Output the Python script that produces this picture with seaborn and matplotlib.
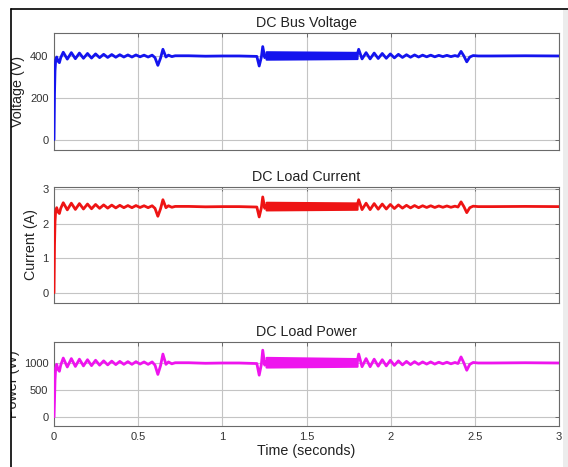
import numpy as np
import pandas as pd
import matplotlib
matplotlib.use("Agg")
import matplotlib.pyplot as plt
import seaborn as sns
from matplotlib.patches import Rectangle
from matplotlib.lines import Line2D

# ---------------- data ----------------
time_s = [0.000, 0.003, 0.006, 0.010, 0.016, 0.024, 0.032, 0.040,
          0.055, 0.079, 0.103, 0.127, 0.151, 0.175, 0.199, 0.223, 0.247, 0.271,
          0.295, 0.319, 0.343, 0.367, 0.391, 0.415, 0.439, 0.463, 0.487, 0.511,
          0.535, 0.559, 0.583, 0.600, 0.617, 0.633, 0.647, 0.665, 0.680, 0.700,
          0.720, 0.800, 0.900, 1.000, 1.100, 1.205, 1.219, 1.232, 1.240, 1.252,
          1.260, 1.530, 1.800, 1.810, 1.830, 1.854, 1.878, 1.902, 1.926, 1.950,
          1.974, 1.998, 2.022, 2.046, 2.070, 2.094, 2.118, 2.142, 2.166, 2.190,
          2.214, 2.238, 2.262, 2.286, 2.310, 2.334, 2.358, 2.382, 2.400, 2.418,
          2.435, 2.452, 2.470, 2.490, 2.520, 2.600, 2.800, 3.000]

voltage_v = [0, 220, 330, 380, 395, 375, 368, 392,
             418, 385, 416, 387, 414, 389, 412, 390, 410, 392,
             408, 393, 407, 394, 406, 395, 405, 395, 405, 396,
             404, 395, 404, 392, 355, 390, 432, 395, 404, 397,
             401, 401, 399, 400, 400, 398, 352, 395, 445, 392,
             405, 402, 402, 432, 386, 416, 386, 414, 388, 412,
             389, 410, 391, 408, 393, 406, 394, 405, 395, 404,
             396, 404, 396, 403, 397, 403, 397, 402, 398, 422,
             400, 372, 395, 402, 400, 400, 401, 400]

current_a = [0.000, 1.375, 2.063, 2.375, 2.469, 2.344, 2.300, 2.450,
             2.613, 2.406, 2.600, 2.419, 2.588, 2.431, 2.575, 2.438, 2.563, 2.450,
             2.550, 2.456, 2.544, 2.463, 2.538, 2.469, 2.531, 2.469, 2.531, 2.475,
             2.525, 2.469, 2.525, 2.450, 2.219, 2.438, 2.700, 2.469, 2.525, 2.481,
             2.506, 2.506, 2.494, 2.500, 2.500, 2.488, 2.200, 2.469, 2.781, 2.450,
             2.531, 2.513, 2.513, 2.700, 2.413, 2.600, 2.413, 2.588, 2.425, 2.575,
             2.431, 2.563, 2.444, 2.550, 2.456, 2.538, 2.463, 2.531, 2.469, 2.525,
             2.475, 2.525, 2.475, 2.519, 2.481, 2.519, 2.481, 2.513, 2.488, 2.638,
             2.500, 2.325, 2.469, 2.513, 2.500, 2.500, 2.506, 2.500]

power_w = [0, 303, 681, 903, 975, 879, 846, 960,
           1092, 926, 1082, 936, 1071, 946, 1061, 951, 1051, 960,
           1040, 965, 1035, 970, 1030, 975, 1025, 975, 1025, 980,
           1020, 975, 1020, 960, 788, 951, 1166, 975, 1020, 985,
           1005, 1005, 995, 1000, 1000, 990, 774, 975, 1238, 960,
           1025, 1010, 1010, 1166, 931, 1082, 931, 1071, 941, 1061,
           946, 1051, 956, 1040, 965, 1030, 970, 1025, 975, 1020,
           980, 1020, 980, 1015, 985, 1015, 985, 1010, 990, 1113,
           1000, 865, 975, 1010, 1000, 1000, 1005, 1000]

# high-frequency ripple band (1.26 s - 1.80 s): lower / upper envelopes
band_t = [1.26, 1.80]
band_v_lo = [385, 388]
band_v_hi = [420, 417]
band_i_lo = [2.406, 2.425]
band_i_hi = [2.625, 2.606]
band_p_lo = [926, 941]
band_p_hi = [1103, 1081]

titles = ["DC Bus Voltage", "DC Load Current", "DC Load Power"]
ylabels = ["Voltage (V)", "Current (A)", "Power (W)"]
yticks_list = [[0, 200, 400], [0, 1, 2, 3], [0, 500, 1000]]
xticks = [0, 0.5, 1, 1.5, 2, 2.5, 3]
xtick_labels = ["0", "0.5", "1", "1.5", "2", "2.5", "3"]

# ---------------- figure ----------------
sns.set_theme(style="white")
plt.rcParams["font.family"] = ["Liberation Sans", "DejaVu Sans"]

W, H = 568, 467
fig = plt.figure(figsize=(W / 100, H / 100), dpi=100)
fig.patch.set_facecolor("white")

def px_axes(top, bottom, left=54, right=559):
    return [left / W, 1 - bottom / H, (right - left) / W, (bottom - top) / H]

positions = [px_axes(33, 150), px_axes(187, 303), px_axes(342, 426)]
ylims = [(-50, 510), (-0.3, 3.07), (-170, 1390)]
colors = ["#1414ee", "#ee1414", "#ee14ee"]
bands = [(band_v_lo, band_v_hi), (band_i_lo, band_i_hi), (band_p_lo, band_p_hi)]
label_cx = [18, 31, 13]  # centre x (px) of each y label

df = pd.DataFrame({"t": time_s, "v": voltage_v, "i": current_a, "p": power_w})
cols = ["v", "i", "p"]

for k in range(3):
    ax = fig.add_axes(positions[k])
    ax.set_facecolor("white")
    ax.fill_between(band_t, bands[k][0], bands[k][1], color=colors[k],
                    linewidth=1.6, edgecolor=colors[k], zorder=3)
    sns.lineplot(data=df, x="t", y=cols[k], ax=ax, color=colors[k],
                 linewidth=2.0, zorder=4, estimator=None, sort=False)
    ax.set_xlim(0, 3)
    ax.set_ylim(*ylims[k])
    ax.set_xticks(xticks)
    ax.set_yticks(yticks_list[k])
    ax.grid(True, color="#c4c4c4", linewidth=0.8)
    ax.set_axisbelow(True)
    for s in ax.spines.values():
        s.set_color("#6a6a6a")
        s.set_linewidth(0.8)
        s.set_visible(True)
    ax.tick_params(direction="in", length=3, width=0.7, colors="#6a6a6a",
                   labelcolor="#333333", labelsize=8, top=True, right=True,
                   pad=4)
    if k < 2:
        ax.set_xticklabels([])
        ax.set_xlabel("")
    else:
        ax.set_xticklabels(xtick_labels)
        ax.set_xlabel("Time (seconds)", fontsize=10.3, color="#222222", labelpad=2)
    ax.set_ylabel(ylabels[k], fontsize=10.3, color="#222222", va="center")
    ax.yaxis.set_label_coords((label_cx[k] - 54) / 505, 0.5)
    ax.set_title(titles[k], fontsize=10.3, color="#222222", pad=4)

# window frame: left clipped region, border lines, right grey strip
fig.patches.append(Rectangle((0, 0), 11 / W, 1, transform=fig.transFigure,
                             facecolor="white", edgecolor="none", zorder=20))
fig.patches.append(Rectangle((563 / W, 0), 5 / W, 1 - 10 / H, transform=fig.transFigure,
                             facecolor="#ececec", edgecolor="none", zorder=20))
fig.lines.append(Line2D([11 / W, 11 / W], [0, 1 - 9 / H], transform=fig.transFigure,
                        color="black", linewidth=1.2, zorder=21))
fig.lines.append(Line2D([11 / W, 1], [1 - 9 / H, 1 - 9 / H], transform=fig.transFigure,
                        color="black", linewidth=1.2, zorder=21))

fig.savefig("out.png", dpi=100)
